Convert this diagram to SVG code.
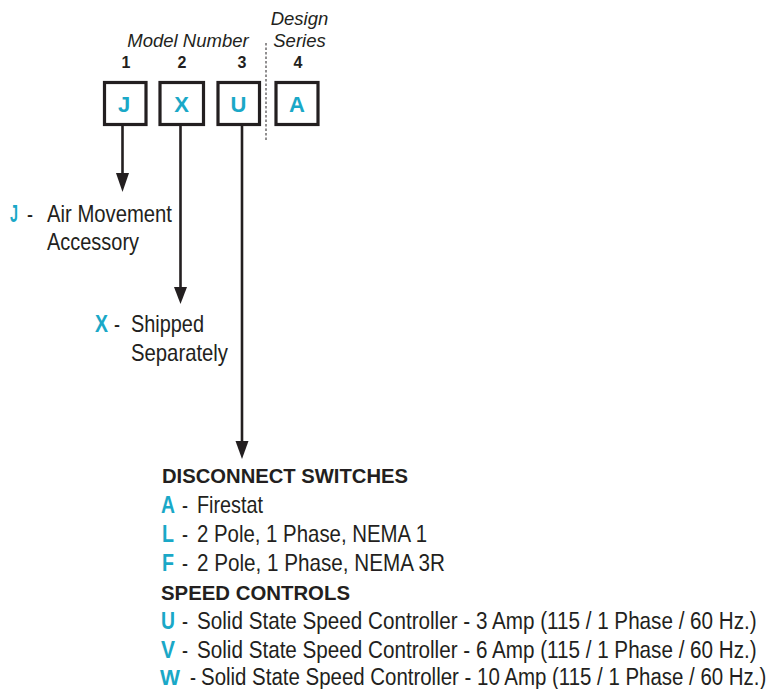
<svg xmlns="http://www.w3.org/2000/svg" width="771" height="689" viewBox="0 0 771 689">
<style>
text{font-family:"Liberation Sans",Arial,sans-serif;fill:#231f20}
.t{font-size:24px}
.b{font-size:21px;font-weight:bold}
.k{font-size:23px;fill:#1aa8c7;font-weight:bold}
.box{fill:#fff;stroke:#231f20;stroke-width:3.2}
.bl{font-size:22px;font-weight:bold;fill:#1aa8c7;text-anchor:middle}
.num{font-size:16px;font-weight:bold;text-anchor:middle}
.it{font-size:18.5px;font-style:italic}
.ln{stroke:#231f20;stroke-width:2.6;fill:none}
</style>
<g id="header">
<text class="it" x="188" y="47" text-anchor="middle">Model Number</text>
<text class="it" x="299.5" y="25" text-anchor="middle">Design</text>
<text class="it" x="299.5" y="47" text-anchor="middle">Series</text>
<text class="num" x="126" y="68">1</text>
<text class="num" x="182" y="68">2</text>
<text class="num" x="242" y="68">3</text>
<text class="num" x="298" y="68">4</text>
<line x1="266" y1="43" x2="266" y2="140" stroke="#231f20" stroke-width="1" stroke-dasharray="2.5 2"/>
</g>
<g id="box-J"><rect class="box" x="104.5" y="82.5" width="41.5" height="42"/><text class="bl" x="124" y="112">J</text></g>
<g id="box-X"><rect class="box" x="160" y="82.5" width="43.5" height="42"/><text class="bl" x="181.5" y="112">X</text></g>
<g id="box-U"><rect class="box" x="218" y="82.5" width="41.5" height="42"/><text class="bl" x="238.5" y="112">U</text></g>
<g id="box-A"><rect class="box" x="276" y="82.5" width="42" height="42"/><text class="bl" x="297" y="112">A</text></g>
<g id="connectors">
<line class="ln" x1="122.5" y1="126" x2="122.5" y2="176"/>
<path d="M116,173 L129,173 L122.5,192 Z" fill="#231f20"/>
<line class="ln" x1="180.5" y1="126" x2="180.5" y2="290"/>
<path d="M174,287 L187,287 L180.5,304 Z" fill="#231f20"/>
<line class="ln" x1="242" y1="126" x2="242" y2="444"/>
<path d="M235.5,441 L248.5,441 L242,459 Z" fill="#231f20"/>
</g>
<g id="opt-J">
<text class="k" x="10" y="222" textLength="8" lengthAdjust="spacingAndGlyphs">J</text>
<text class="t" x="27" y="222" textLength="6" lengthAdjust="spacingAndGlyphs">-</text>
<text class="t" x="47" y="222" textLength="125" lengthAdjust="spacingAndGlyphs">Air Movement</text>
<text class="t" x="47" y="249.5" textLength="92" lengthAdjust="spacingAndGlyphs">Accessory</text>
</g>
<g id="opt-X">
<text class="k" x="95" y="332" textLength="13" lengthAdjust="spacingAndGlyphs">X</text>
<text class="t" x="114" y="332" textLength="6" lengthAdjust="spacingAndGlyphs">-</text>
<text class="t" x="131" y="332" textLength="73" lengthAdjust="spacingAndGlyphs">Shipped</text>
<text class="t" x="131" y="361" textLength="97" lengthAdjust="spacingAndGlyphs">Separately</text>
</g>
<g id="opt-U">
<text class="b" x="162" y="483.3" textLength="246" lengthAdjust="spacingAndGlyphs">DISCONNECT SWITCHES</text>
<text class="k" x="161" y="512.7" textLength="14" lengthAdjust="spacingAndGlyphs">A</text>
<text class="t" x="182" y="512.7" textLength="6" lengthAdjust="spacingAndGlyphs">-</text>
<text class="t" x="197" y="512.7" textLength="66" lengthAdjust="spacingAndGlyphs">Firestat</text>
<text class="k" x="162" y="541.7" textLength="12" lengthAdjust="spacingAndGlyphs">L</text>
<text class="t" x="182" y="541.7" textLength="6" lengthAdjust="spacingAndGlyphs">-</text>
<text class="t" x="197" y="541.7" textLength="230" lengthAdjust="spacingAndGlyphs">2 Pole, 1 Phase, NEMA 1</text>
<text class="k" x="162" y="570.5" textLength="12" lengthAdjust="spacingAndGlyphs">F</text>
<text class="t" x="182" y="570.5" textLength="6" lengthAdjust="spacingAndGlyphs">-</text>
<text class="t" x="197" y="570.5" textLength="248" lengthAdjust="spacingAndGlyphs">2 Pole, 1 Phase, NEMA 3R</text>
<text class="b" x="161" y="599.5" textLength="189" lengthAdjust="spacingAndGlyphs">SPEED CONTROLS</text>
<text class="k" x="161" y="628.5" textLength="14" lengthAdjust="spacingAndGlyphs">U</text>
<text class="t" x="182" y="628.5" textLength="6" lengthAdjust="spacingAndGlyphs">-</text>
<text class="t" transform="translate(197 628.5) scale(0.861 1)">Solid State Speed Controller - 3 Amp (115 / 1 Phase / 60 Hz.)</text>
<text class="k" x="161" y="657.5" textLength="14" lengthAdjust="spacingAndGlyphs">V</text>
<text class="t" x="182" y="657.5" textLength="6" lengthAdjust="spacingAndGlyphs">-</text>
<text class="t" transform="translate(197 657.5) scale(0.861 1)">Solid State Speed Controller - 6 Amp (115 / 1 Phase / 60 Hz.)</text>
<text class="k" x="160" y="685" textLength="20" lengthAdjust="spacingAndGlyphs" style="font-size:22px">W</text>
<text class="t" x="190" y="685" textLength="6" lengthAdjust="spacingAndGlyphs">-</text>
<text class="t" transform="translate(201 685) scale(0.87 1)" style="font-size:23.5px">Solid State Speed Controller - 10 Amp (115 / 1 Phase / 60 Hz.)</text>
</g>
</svg>
